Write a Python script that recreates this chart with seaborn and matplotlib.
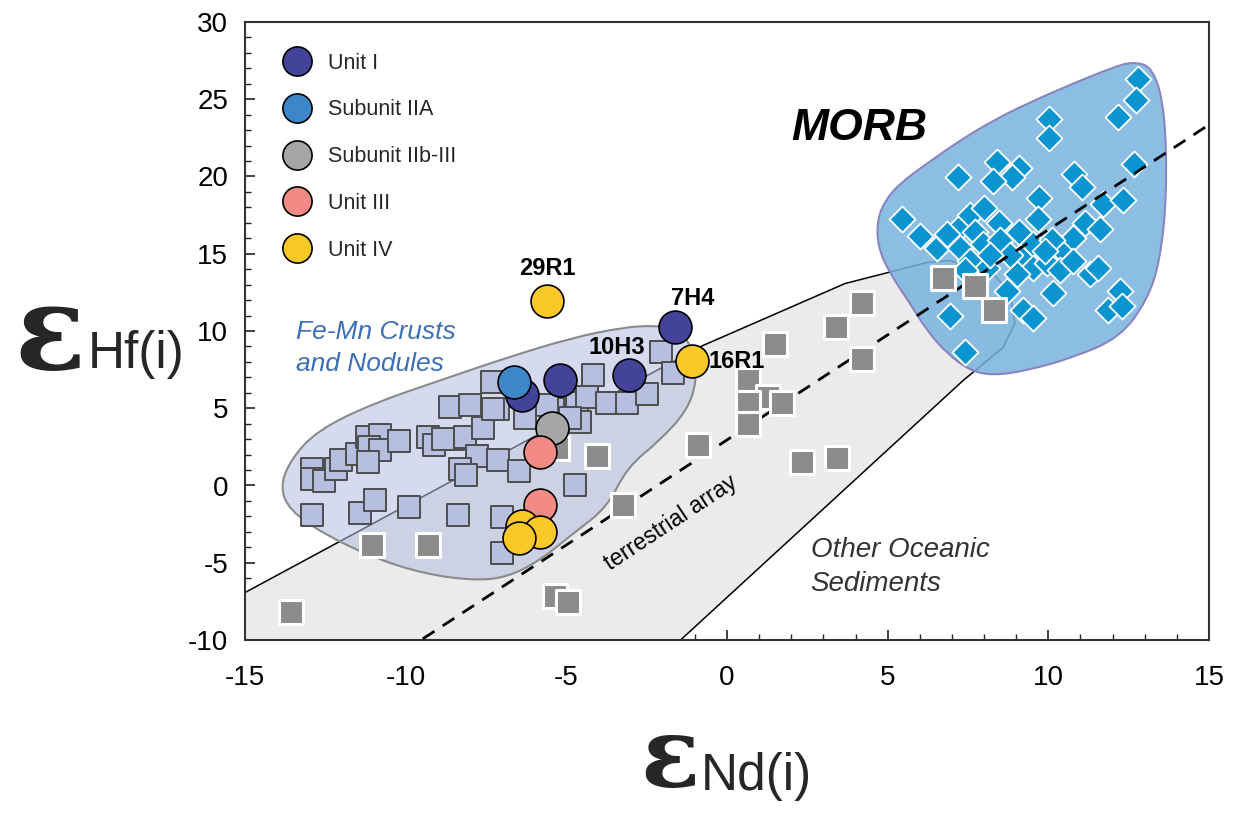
import numpy as np
import pandas as pd
import matplotlib
matplotlib.use('Agg')
import matplotlib.pyplot as plt
import seaborn as sns
from matplotlib.path import Path
from matplotlib.patches import PathPatch, Polygon
from matplotlib.lines import Line2D
from matplotlib.ticker import MultipleLocator

sns.set_theme(style='white')
plt.rcParams['font.family'] = ['Liberation Sans', 'DejaVu Sans']
plt.rcParams['axes.unicode_minus'] = False

# ---------------- data ----------------
units = ['Unit I', 'Subunit IIA', 'Subunit IIb-III', 'Unit III', 'Unit IV']
unit_colors = ['#434499', '#3d87c8', '#a6a6a6', '#f28b86', '#fbc927']

sample_nd = [-6.38, -5.20, -3.05, -1.62, -6.63, -5.45, -5.82, -5.82,
             -5.60, -1.09, -6.38, -5.82, -6.47]
sample_hf = [5.83, 6.86, 7.12, 10.23, 6.67, 3.75, 2.14, -1.23,
             11.97, 8.03, -2.65, -3.04, -3.37]
sample_unit = ['Unit I'] * 4 + ['Subunit IIA', 'Subunit IIb-III'] + \
              ['Unit III'] * 2 + ['Unit IV'] * 5
sample_names = ['', '', '10H3', '7H4', '', '', '', '', '29R1', '16R1', '', '', '']

femn_nd = [-12.92, -12.92, -12.54, -12.17, -12.01, -11.52, -11.20, -10.80, -11.14,
           -10.80, -11.17, -10.21, -9.31, -9.12, -8.53, -8.15, -8.62, -8.00, -7.31,
           -7.59, -7.78, -8.31, -8.12, -7.13, -7.13, -6.47, -6.29, -5.42, -4.67,
           -4.36, -4.17, -4.58, -3.73, -3.11, -2.49, -2.05, -1.68, -4.73, -12.92,
           -11.42, -10.96, -9.90, -8.37, -7.00, -7.00, -7.28, -8.84, -5.60, -4.89]
femn_hf = [1.10, 0.39, 0.26, 1.04, 1.68, 2.07, 3.11, 3.24, 2.46,
           2.27, 1.49, 2.91, 3.11, 2.59, 2.98, 3.17, 5.05, 5.18, 6.67,
           3.75, 1.94, 1.10, 0.65, 1.62, 4.92, 0.97, 4.40, 4.98, 5.31,
           5.70, 7.12, 4.08, 5.31, 5.31, 5.89, 8.61, 7.31, 0.00, -1.94,
           -1.81, -0.97, -1.36, -1.94, -2.07, -4.40, 4.98, 3.04, 5.18, 4.34]

sed_nd = [-13.57, -11.05, -9.31, -5.35, -4.95, -4.05, -3.24, -0.90, 1.49, 3.39,
          4.20, 4.20, 0.65, 1.28, 1.71, 0.65, 0.65, 2.33, 3.42, 6.72, 7.72, 8.31, -5.30]
sed_hf = [-8.22, -3.82, -3.82, -7.12, -7.57, 1.88, -1.23, 2.59, 9.13, 10.23,
          11.84, 8.22, 6.80, 5.70, 5.31, 5.31, 4.01, 1.49, 1.81, 13.40, 12.94, 11.33, 2.40]

morb_nd = [12.79, 12.73, 12.17, 10.02, 10.02, 8.40, 9.09, 8.87, 8.28, 7.19, 10.80,
           11.05, 12.67, 9.71, 5.45, 6.01, 6.54, 6.94, 7.25, 7.56, 8.00, 8.47, 7.72,
           7.97, 7.25, 8.50, 9.09, 9.68, 9.52, 10.36, 10.77, 11.14, 11.61, 11.70,
           12.32, 9.12, 9.52, 9.96, 10.36, 10.77, 11.30, 11.55, 9.03, 8.71, 10.15,
           9.21, 9.52, 6.94, 7.41, 12.23, 11.86, 12.29, 7.56, 8.09, 6.85, 10.11,
           8.81, 9.90, 8.19, 7.41]
morb_hf = [26.28, 24.92, 23.88, 23.69, 22.52, 20.97, 20.58, 19.94, 19.74, 19.94, 20.13,
           19.29, 20.84, 18.64, 17.22, 16.18, 15.40, 16.05, 16.70, 17.48, 17.99, 16.96, 16.38,
           15.66, 15.40, 15.86, 16.38, 17.28, 15.66, 15.34, 16.05, 16.96, 16.63, 18.25,
           18.45, 14.76, 14.11, 14.37, 13.92, 14.56, 13.72, 14.05, 13.72, 12.62, 12.43,
           11.33, 10.87, 11.00, 8.61, 12.62, 11.33, 11.65, 14.56, 14.11, 16.31, 15.86,
           14.89, 15.21, 14.89, 13.92]

# field outlines (epsilon Nd, epsilon Hf)
morb_field_nd = [13.26, 13.63, 13.69, 13.48, 13.07, 12.23, 10.77, 9.34, 8.28, 7.56, 6.85,
                 6.22, 5.70, 5.07, 4.70, 4.67, 4.92, 5.38, 6.22, 7.25, 8.28, 9.34, 10.77,
                 12.01, 12.64]
morb_field_hf = [27.06, 24.27, 18.90, 14.56, 11.97, 9.58, 8.28, 7.44, 7.12, 7.44, 8.54,
                 10.03, 11.78, 13.72, 15.40, 17.15, 18.45, 19.55, 20.84, 22.33, 23.62, 24.72,
                 26.02, 27.06, 27.44]
femn_field_nd = [-13.91, -13.60, -12.76, -11.02, -8.93, -6.85, -4.79, -3.24, -2.30, -1.56,
                 -1.06, -0.93, -1.24, -2.09, -3.11, -3.73, -4.79, -5.82, -6.85, -7.91,
                 -9.46, -11.02, -12.57, -13.60]
femn_field_hf = [-0.13, 1.62, 3.56, 5.31, 6.80, 8.28, 9.58, 10.23, 10.36, 10.16,
                 8.93, 6.80, 4.85, 2.91, 1.17, -1.42, -3.11, -4.85, -5.95, -6.15,
                 -5.70, -4.66, -3.11, -1.62]
sed_field_nd = [-15.0, -0.75, 3.67, 6.22, 6.94, 8.28, 8.81, 8.96, 8.59, 7.35, -1.46, -15.0]
sed_field_hf = [-6.93, 9.06, 13.07, 14.43, 14.56, 13.72, 12.43, 10.49, 8.93, 6.80, -10.03, -10.0]

# terrestrial array (Vervoort et al. 1999): eHf = 1.36 eNd + 2.95
tarray_slope = 1.36
tarray_intercept = 2.95
tarray_nd = np.array([-15.0, 15.0])

x_ticks = [-15, -10, -5, 0, 5, 10, 15]
y_ticks = [-10, -5, 0, 5, 10, 15, 20, 25, 30]


def smooth_path(xs, ys):
    pts = np.column_stack([xs, ys])
    n = len(pts)
    mids = (pts + np.roll(pts, -1, axis=0)) / 2.0
    verts = [mids[-1]]
    codes = [Path.MOVETO]
    for i in range(n):
        verts += [pts[i], mids[i]]
        codes += [Path.CURVE3, Path.CURVE3]
    return Path(verts, codes)


# ---------------- figure ----------------
fig = plt.figure(figsize=(12.34, 8.13), dpi=100)
ax = fig.add_axes([245 / 1234, 1 - 640 / 813, (1209 - 245) / 1234, (640 - 22) / 813])
ax.set_facecolor('white')

# fields
ax.add_patch(Polygon(np.column_stack([sed_field_nd, sed_field_hf]), closed=True,
                     facecolor='#ebebeb', edgecolor='black', lw=1.1, zorder=1))
ax.add_patch(PathPatch(smooth_path(femn_field_nd, femn_field_hf),
                       facecolor=(0.70, 0.74, 0.88, 0.55), edgecolor='#8a8a8a',
                       lw=1.5, zorder=2))
ax.add_patch(PathPatch(smooth_path(morb_field_nd, morb_field_hf),
                       facecolor=(0.47, 0.70, 0.88, 0.85), edgecolor='#8a84c0',
                       lw=1.5, zorder=2))

# MORB diamonds
sns.scatterplot(x=morb_nd, y=morb_hf, marker='D', s=175, color='#0b95d0',
                edgecolor='white', linewidth=1.3, ax=ax, zorder=3, legend=False)

# terrestrial array
ax.plot(tarray_nd, tarray_slope * tarray_nd + tarray_intercept, color='black',
        lw=2.0, ls=(0, (5, 3.5)), zorder=3.5)

# other oceanic sediments
sns.scatterplot(x=sed_nd, y=sed_hf, marker='s', s=300, color='#8c8c8c',
                edgecolor='white', linewidth=2.2, ax=ax, zorder=4, legend=False)

# Fe-Mn crusts and nodules
sns.scatterplot(x=femn_nd, y=femn_hf, marker='s', s=235, color='#b6bfdf',
                edgecolor='#4d4d4d', linewidth=1.4, ax=ax, zorder=5, legend=False)

# samples
samples = pd.DataFrame({'nd': sample_nd, 'hf': sample_hf, 'unit': sample_unit})
for u, c in zip(units, unit_colors):
    sub = samples[samples['unit'] == u]
    sns.scatterplot(data=sub, x='nd', y='hf', marker='o', s=560, color=c,
                    edgecolor='black', linewidth=1.2, ax=ax, zorder=6, legend=False)

label_offsets = {'29R1': (0, 23, 'center', 'center'), '7H4': (13, 21, 'center', 'center'),
                 '10H3': (-9, 20, 'center', 'center'), '16R1': (12, 0, 'left', 'center')}
for name, x, y in zip(sample_names, sample_nd, sample_hf):
    if name:
        dx, dy, ha, va = label_offsets[name]
        ax.annotate(name, (x, y), xytext=(dx, dy), textcoords='offset points',
                    ha=ha, va=va, fontsize=17, fontweight='bold', color='black', zorder=7)

# text annotations
ax.text(4.1, 23.1, 'MORB', fontsize=32, fontweight='bold', fontstyle='italic',
        ha='center', va='center', color='black')
ax.text(-13.4, 8.9, 'Fe-Mn Crusts\nand Nodules', fontsize=19, fontstyle='italic',
        ha='left', va='center', color='#3c6fb7', linespacing=1.45)
ax.text(2.6, -5.3, 'Other Oceanic\nSediments', fontsize=20, fontstyle='italic',
        ha='left', va='center', color='#333333', linespacing=1.4)
ax.text(-1.75, -2.4, 'terrestrial array', fontsize=16.5, rotation=33.5,
        ha='center', va='center', color='black', rotation_mode='anchor')

# axes styling
ax.set_xlim(-15, 15)
ax.set_ylim(-10, 30)
ax.set_xticks(x_ticks)
ax.set_yticks(y_ticks)
ax.xaxis.set_minor_locator(MultipleLocator(1))
ax.yaxis.set_minor_locator(MultipleLocator(1))
ax.tick_params(which='major', direction='in', length=7, width=1.2, labelsize=20,
               colors='#222222', labelcolor='black', bottom=True, left=True)
ax.tick_params(axis='x', which='major', pad=18)
ax.tick_params(axis='y', which='major', pad=12)
ax.tick_params(which='minor', direction='in', length=4, width=1.0, colors='#222222',
               bottom=True, left=True)
for sp in ax.spines.values():
    sp.set_color('#333333')
    sp.set_linewidth(1.5)
    sp.set_visible(True)
ax.set_xlabel('')
ax.set_ylabel('')

# legend
handles = [Line2D([], [], marker='o', ls='none', markersize=21, markerfacecolor=c,
                  markeredgecolor='black', markeredgewidth=1.2) for c in unit_colors]
leg = ax.legend(handles, units, loc='upper left', bbox_to_anchor=(0.016, 0.975),
                frameon=False, fontsize=15.5, labelspacing=1.2, handletextpad=0.45,
                borderaxespad=0.3)

# axis titles
fig.text(14 / 1234, 1 - 370 / 813, 'ε', family='DejaVu Serif', fontweight='bold',
         fontsize=84, ha='left', va='baseline')
fig.text(88 / 1234, 1 - 368 / 813, 'Hf(i)', fontsize=37, ha='left', va='baseline')
fig.text(640 / 1234, 1 - 787 / 813, 'ε', family='DejaVu Serif', fontweight='bold',
         fontsize=70, ha='left', va='baseline')
fig.text(701 / 1234, 1 - 790 / 813, 'Nd(i)', fontsize=37, ha='left', va='baseline')

fig.savefig('out.png', dpi=100)
